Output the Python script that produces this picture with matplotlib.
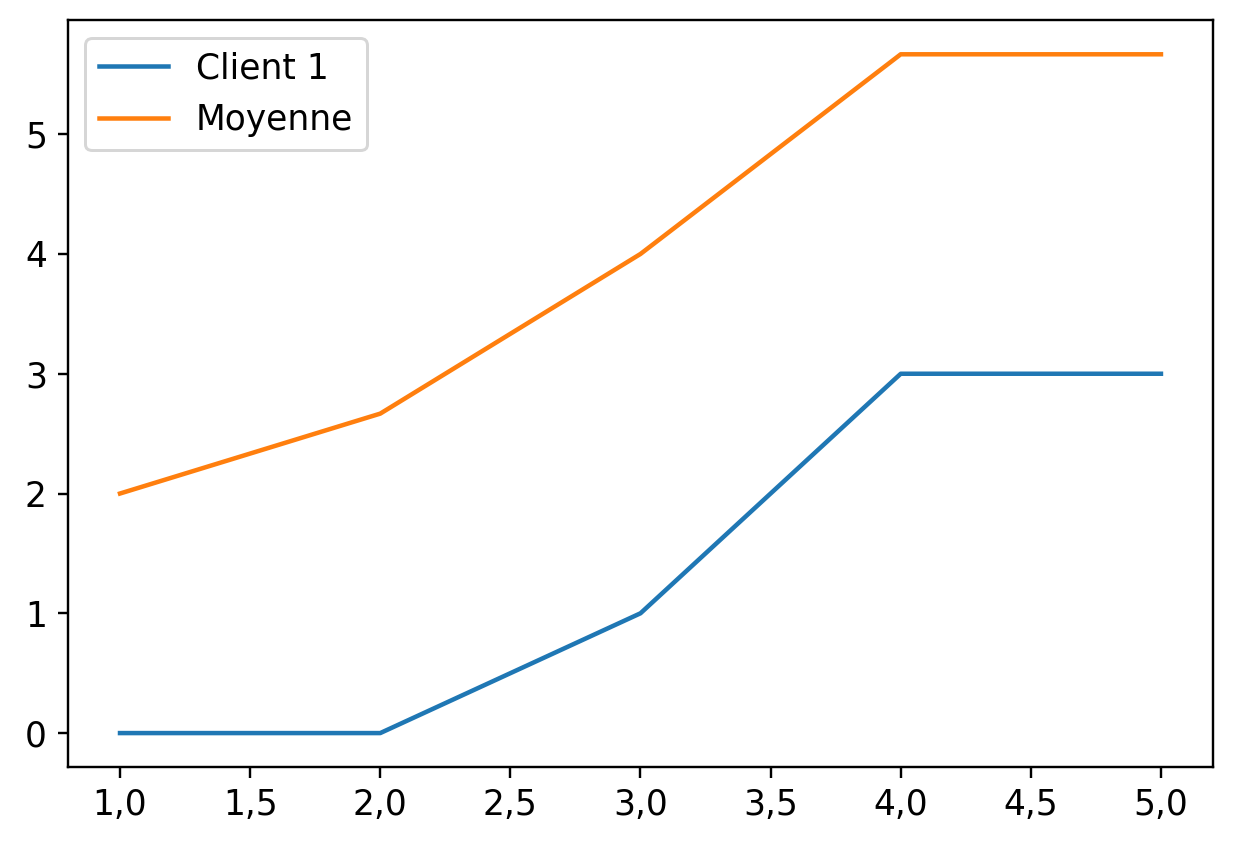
import matplotlib
matplotlib.use("Agg")
import matplotlib.pyplot as plt
from matplotlib.ticker import FuncFormatter

# data
x = [1, 2, 3, 4, 5]
client_1 = [0, 0, 1, 3, 3]
moyenne = [2, 2.667, 4, 5.667, 5.667]
labels = ["Client 1", "Moyenne"]

plt.rcParams["font.size"] = 11.5

fig = plt.figure(figsize=(1238 / 216, 848 / 216), dpi=216)
ax = fig.add_axes([0.0549, 0.0955, 0.9798 - 0.0549, 0.976 - 0.0955])

ax.plot(x, client_1, label=labels[0])
ax.plot(x, moyenne, label=labels[1])

# french decimal separator on the x ticks
ax.xaxis.set_major_formatter(FuncFormatter(lambda v, pos: f"{v:.1f}".replace(".", ",")))

ax.legend(loc="upper left")

fig.savefig("out.png", dpi=216)
